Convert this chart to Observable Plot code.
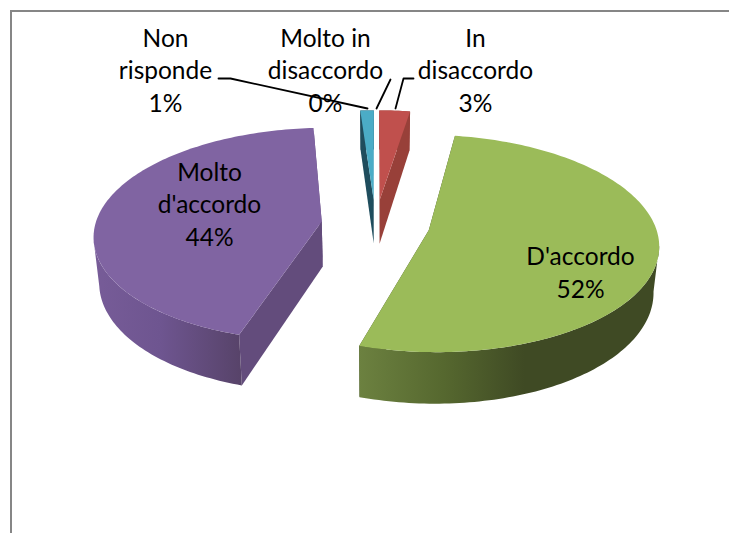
<!DOCTYPE html>
<html><head><meta charset="utf-8">
<script src="https://cdn.jsdelivr.net/npm/d3@7"></script>
<script src="https://cdn.jsdelivr.net/npm/@observablehq/plot@0.6"></script>
<style>html,body{margin:0;padding:0;background:#fff}svg{display:block}</style>
</head><body><div id="chart"></div>
<script>
// Data, in Excel's slice order (clockwise from 12 o'clock)
const categories = ["Molto in disaccordo", "In disaccordo", "D'accordo", "Molto d'accordo", "Non risponde"];
const values = [0, 2.5, 52.3, 44.1, 1.1];
const topColors = ["#F79646", "#C0504D", "#9BBB59", "#8064A2", "#4BACC6"];
const wallColors = ["#B36A2F", "#984039", "url(#wallGreen)", "url(#wallPurple)", "#1F4D5D"];
const cutColors = ["#B36A2F", "#984039", "#3F4A24", "#634C7C", "#1F4D5D"];
const labelLines = ["Molto in\ndisaccordo", "In\ndisaccordo", "D'accordo", "Molto\nd'accordo", "Non\nrisponde"];

// Layout of the 3D view
const cx = 375, cy = 224, R = 226.4, tilt = 0.467, persp = 0.12, explode = 0.24, H = 45, shrink = 0.02;
const labelAt = [[325, 70], [475, 70], [580, 272], [209, 204], [165, 70]];
const leaders = [
  [[390, 79], [376, 108]],
  [[413, 78], [403, 78], [395, 108]],
  [],
  [],
  [[218, 78], [230, 78], [367, 108]]
];

// Perspective projection of a point of the pie plane; z counts downward
function project(X, Y, z = 0) {
  const s = 1 / (1 + persp * Y);
  return {x: cx + R * X * s * (1 - shrink * z), y: cy - R * tilt * Y * s + H * z * s};
}

const total = d3.sum(values);
let acc = 0;
const slices = categories.map((name, i) => {
  const a0 = acc / total * 2 * Math.PI;
  acc += values[i];
  const a1 = acc / total * 2 * Math.PI;
  const mid = (a0 + a1) / 2;
  return {name, i, a0, a1, ox: explode * Math.sin(mid), oy: explode * Math.cos(mid)};
}).filter(d => values[d.i] > 0);

function rim(d, from, to, z) {
  const n = Math.max(2, Math.ceil(Math.abs(to - from) / 0.02));
  return d3.range(n + 1).map(k => {
    const t = from + (to - from) * k / n;
    return project(d.ox + Math.sin(t), d.oy + Math.cos(t), z);
  });
}
const apex = (d, z) => project(d.ox, d.oy, z);

const shapes = [];
for (const d of slices) {
  const cut0 = [apex(d, 0), rim(d, d.a0, d.a0, 0)[0], rim(d, d.a0, d.a0, 1)[0], apex(d, 1)];
  const cut1 = [apex(d, 0), rim(d, d.a1, d.a1, 0)[0], rim(d, d.a1, d.a1, 1)[0], apex(d, 1)];
  shapes.push({pts: cut0, fill: cutColors[d.i]}, {pts: cut1, fill: cutColors[d.i]});
  // outer wall: only the part that faces the viewer (a small wedge keeps its whole arc)
  let w0 = d.a0, w1 = d.a1;
  if (d.a1 - d.a0 > 1) {
    w0 = Math.max(w0, Math.PI * 0.544);
    w1 = Math.min(w1, Math.PI * 1.444);
  }
  shapes.push({pts: [...rim(d, w0, w1, 0), ...rim(d, w1, w0, 1)], fill: wallColors[d.i]});
  shapes.push({pts: [apex(d, 0), ...rim(d, d.a0, d.a1, 0)], fill: topColors[d.i]});
}

function gradient(id, stops) {
  const ns = "http://www.w3.org/2000/svg";
  const g = document.createElementNS(ns, "linearGradient");
  g.setAttribute("id", id);
  for (const [o, c] of stops) {
    const s = document.createElementNS(ns, "stop");
    s.setAttribute("offset", o);
    s.setAttribute("stop-color", c);
    g.appendChild(s);
  }
  return g;
}
const defsMark = () => {
  const ns = "http://www.w3.org/2000/svg";
  const defs = document.createElementNS(ns, "defs");
  defs.appendChild(gradient("wallGreen", [[0, "#6C8140"], [0.28, "#56682F"], [0.55, "#3F4A24"], [1, "#3F4A24"]]));
  defs.appendChild(gradient("wallPurple", [[0, "#775C98"], [0.45, "#6E5590"], [1, "#574369"]]));
  return defs;
};

const labels = categories.map((name, i) => ({
  text: `${labelLines[i]}\n${Math.round(values[i] / total * 100 + 1e-9)}%`,
  x: labelAt[i][0], y: labelAt[i][1] - 1.5
}));
const leaderRows = leaders.flatMap((l, i) => l.map(([x, y]) => ({x, y, i})));

const plot = Plot.plot({
  width: 729, height: 533,
  margin: 0,
  x: {domain: [0, 729], range: [0, 729], axis: null},
  y: {domain: [0, 533], range: [0, 533], axis: null},
  style: {background: "#fff", fontFamily: "Lato, sans-serif"},
  marks: [
    defsMark,
    Plot.ruleX([10.5], {y1: 10, y2: 533, stroke: "#868686", strokeWidth: 2}),
    Plot.ruleY([10.5], {x1: 10, x2: 729, stroke: "#868686", strokeWidth: 2}),
    ...shapes.map(s => Plot.line(s.pts, {x: "x", y: "y", fill: s.fill, stroke: "none"})),
    Plot.text(labels, {x: "x", y: "y", text: "text", fontSize: 24.5, lineHeight: 1.327, fill: "#000", textAnchor: "middle"}),
    Plot.line(leaderRows, {x: "x", y: "y", z: "i", stroke: "#000", strokeWidth: 1.8})
  ]
});
document.getElementById("chart").appendChild(plot);
</script></body></html>
